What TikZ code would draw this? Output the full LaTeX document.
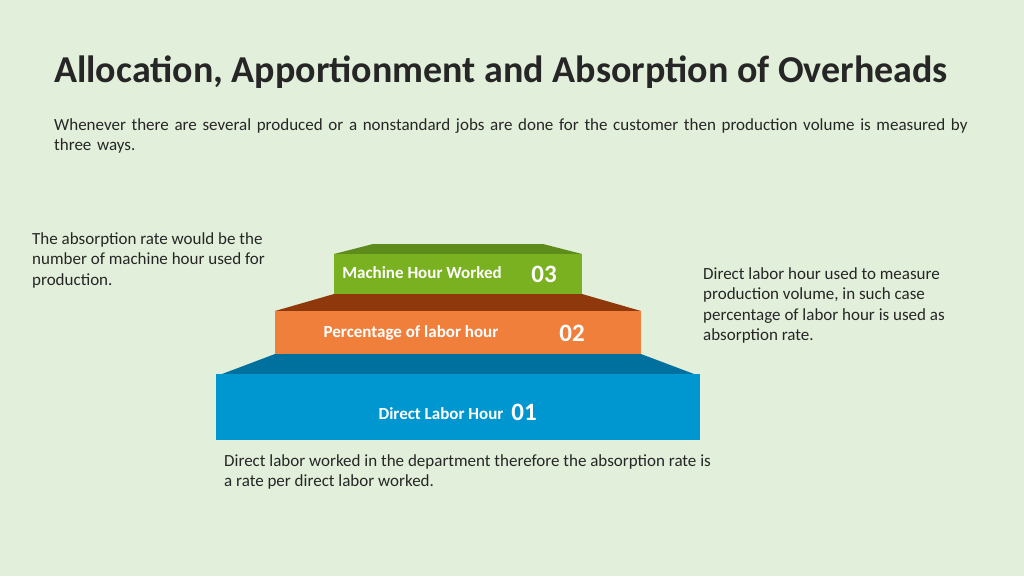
\documentclass[tikz,border=0pt]{standalone}
\usepackage{fontspec}
\setmainfont{Carlito}
\definecolor{bg}{HTML}{E2EFDA}
\definecolor{gr}{HTML}{7AB120}\definecolor{grt}{HTML}{5E8C1C}
\definecolor{orf}{HTML}{F07F3C}\definecolor{ort}{HTML}{8E380C}
\definecolor{bl}{HTML}{0096CF}\definecolor{blt}{HTML}{00709E}
\definecolor{txt}{HTML}{262626}
\begin{document}
\begin{tikzpicture}[x=1pt,y=-1pt,
 body/.style={font=\fontsize{17}{20.5}\selectfont,text=txt,align=left,inner sep=0pt},
 lab/.style={font=\bfseries\fontsize{17}{20}\selectfont,text=white,inner sep=0pt},
 num/.style={font=\bfseries\fontsize{25}{28}\selectfont,text=white,inner sep=0pt}]
\fill[bg] (0,0) rectangle (1024,576);
\useasboundingbox (0,0) rectangle (1024,576);
\node[anchor=west,inner sep=0pt,font=\bfseries\fontsize{38}{44}\selectfont,text=txt] (title) at (54,72) {Allocation, Apportionment and Absorption of Overheads};
\node[body,anchor=north west,text width=940pt] (intro) at (54,118) {Whenever there are several produced or a nonstandard jobs are done for the customer then production volume is measured by three ways.};
% blue
\fill[blt] (275,354) -- (641,354) -- (694,374) -- (222,374) -- cycle;
\fill[bl] (216,374) rectangle (700,440);
% orange
\fill[ort] (334,294) -- (582,294) -- (641,311) -- (275,311) -- cycle;
\fill[orf] (275,311) rectangle (641,354);
% green
\fill[grt] (373,244) -- (543,244) -- (582,254) -- (334,254) -- cycle;
\fill[gr] (334,254) rectangle (582,294);
\node[lab] (l3) at (422,273) {Machine Hour Worked};
\node[num] (n3) at (544,274) {03};
\node[lab] (l2) at (411,333) {Percentage of labor hour};
\node[num] (n2) at (572,333) {02};
\node[lab] (l1) at (441,414) {Direct Labor Hour};
\node[num] (n1) at (524,412) {01};
\node[body,anchor=north west] (left) at (32,232) {The absorption rate would be the\\number of machine hour used for\\production.};
\node[body,anchor=north west] (right) at (703,267) {Direct labor hour used to measure\\production volume, in such case\\percentage of labor hour is used as\\absorption rate.};
\node[body,anchor=north west] (bottom) at (224,454) {Direct labor worked in the department therefore the absorption rate is\\a rate per direct labor worked.};
\end{tikzpicture}
\end{document}
